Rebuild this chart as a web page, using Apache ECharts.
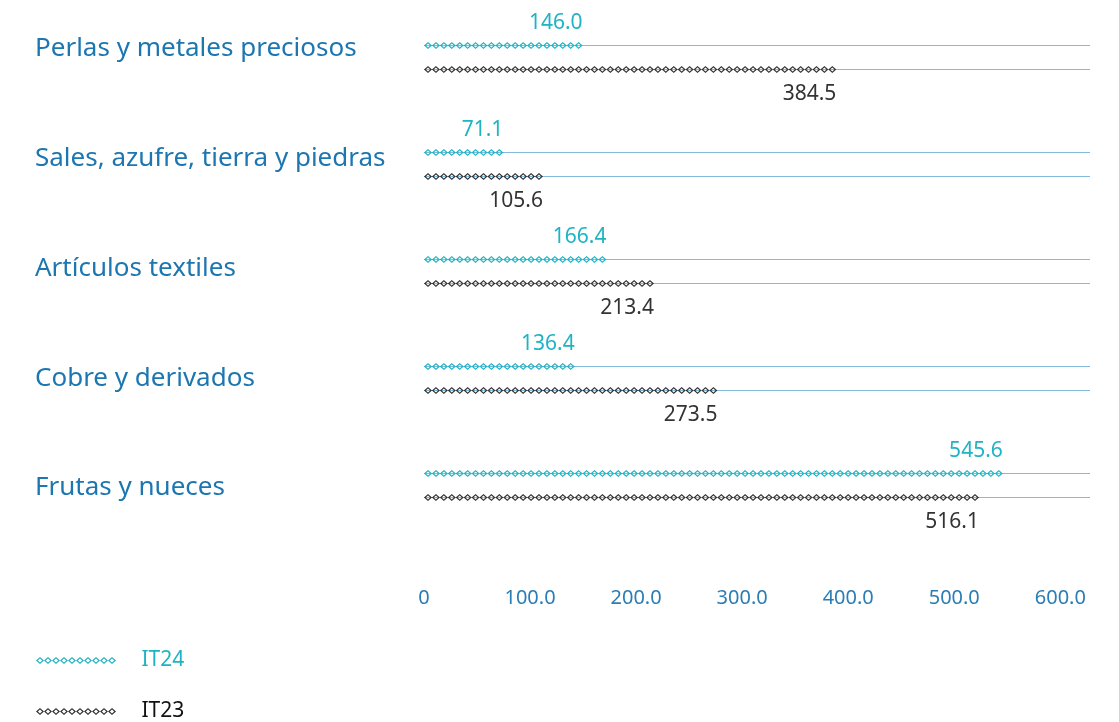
<!DOCTYPE html>
<html>
<head>
<meta charset="utf-8">
<script src="https://cdn.jsdelivr.net/npm/echarts@6/dist/echarts.min.js"></script>
<style>
	html, body { margin: 0; padding: 0; background: #fff; }
	#chart { width: 1119px; height: 722px; }
</style>
</head>
<body>
<div id="chart"></div>
<script>
var categories = ['Perlas y metales preciosos', 'Sales, azufre, tierra y piedras', 'Artículos textiles', 'Cobre y derivados', 'Frutas y nueces'];
var it24 = [146.0, 71.1, 166.4, 136.4, 545.6];
var it23 = [384.5, 105.6, 213.4, 273.5, 516.1];
var axisMax = 628;

var teal = '#1fb3c3';
var dark = '#333333';
var blue = '#1c76b0';
var font = '"Noto Sans", sans-serif';

// hollow diamond: outer outline plus a hole wound the other way
var diamond = function (x) {
	return 'M' + x + ',3.5L' + (x + 4) + ',0L' + (x + 8) + ',3.5L' + (x + 4) + ',7Z' +
		'M' + (x + 1.85) + ',3.5L' + (x + 4) + ',5.4L' + (x + 6.15) + ',3.5L' + (x + 4) + ',1.6Z';
};
var chain = '';
for (var i = 0; i < 10; i++) chain += diamond(i * 8);

// category labels sit a little higher the nearer they are to the top
var labelRich = {};
categories.forEach(function (c, i) {
	var p = 17 - 5.5 * i;
	labelRich['r' + i] = { color: blue, fontFamily: font, fontSize: 26, padding: [Math.max(0, -p), 0, Math.max(0, p), 0] };
});

var guide = function (name, offset) {
	return {
		name: name,
		type: 'pictorialBar',
		silent: true,
		barGap: '-100%',
		symbol: 'rect',
		symbolPosition: 'start',
		symbolSize: ['100%', 1],
		symbolOffset: [0, offset],
		itemStyle: { color: '#84bada' },
		z: 1,
		data: categories.map(function () { return axisMax; })
	};
};

var chainBar = function (name, data, color, offset, labelOffset) {
	return {
		name: name,
		type: 'pictorialBar',
		barGap: '-100%',
		symbol: 'path://' + diamond(0),
		symbolRepeat: true,
		symbolSize: [8, 7],
		symbolMargin: 0,
		symbolPosition: 'start',
		symbolOffset: [0, offset],
		itemStyle: { color: color },
		z: 3,
		label: {
			show: true,
			position: 'insideRight',
			distance: 0,
			offset: [0, labelOffset],
			color: color,
			fontFamily: font,
			fontSize: 21,
			formatter: function (p) { return p.value.toFixed(1); }
		},
		data: data
	};
};

echarts.init(document.getElementById('chart')).setOption({
	animation: false,
	grid: { left: 424, right: 29, top: 4, bottom: 183, containLabel: false },
	xAxis: {
		type: 'value',
		min: 0,
		max: axisMax,
		interval: 100,
		axisLine: { show: false },
		axisTick: { show: false },
		splitLine: { show: false },
		axisLabel: {
			margin: 49,
			color: '#2a7db5',
			fontFamily: font,
			fontSize: 20,
			showMaxLabel: false,
			formatter: function (v) { return v === 0 ? '0' : (v % 100 === 0 ? v.toFixed(1) : ''); }
		}
	},
	yAxis: {
		type: 'category',
		inverse: true,
		data: categories,
		axisLine: { show: false },
		axisTick: { show: false },
		axisLabel: {
			align: 'left',
			margin: 389,
			rich: labelRich,
			formatter: function (v, i) { return '{r' + i + '|' + v + '}'; }
		}
	},
	legend: {
		orient: 'vertical',
		left: 36,
		top: 650,
		padding: 0,
		itemWidth: 81,
		itemHeight: 7,
		itemGap: 30,
		textStyle: { fontFamily: font, fontSize: 21, lineHeight: 20, padding: [0, 0, 0, 20] },
		data: [
			{ name: 'IT24', icon: 'path://' + chain, itemStyle: { color: teal }, textStyle: { color: teal } },
			{ name: 'IT23', icon: 'path://' + chain, itemStyle: { color: dark }, textStyle: { color: '#111' } }
		]
	},
	series: [
		guide('line24', -12),
		guide('line23', 12),
		chainBar('IT24', it24, teal, -12, -34),
		chainBar('IT23', it23, dark, 12, 37)
	]
});
</script>
</body>
</html>
